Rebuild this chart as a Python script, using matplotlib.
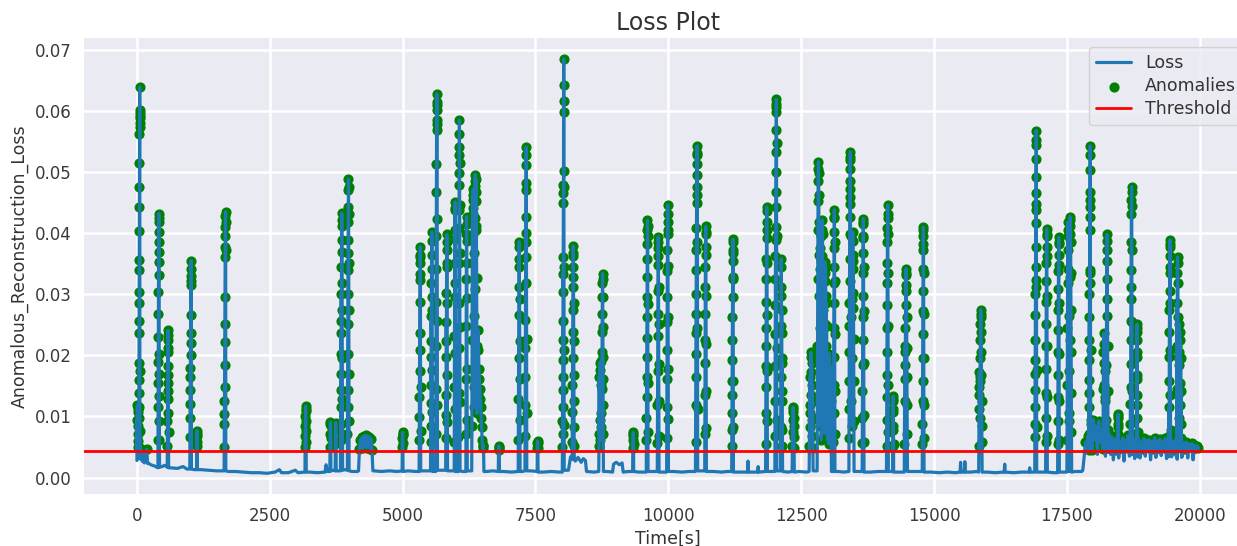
import numpy as np
import matplotlib.pyplot as plt

plt.style.use("seaborn-v0_8-darkgrid")
plt.rcParams["font.family"] = "DejaVu Sans"

threshold = 0.0044

# quiet stretches of the loss signal (time in s, loss)
base_t = [210, 260, 330, 470, 520, 640, 760, 870, 940, 1080, 1200, 1350, 1500, 1720,
          1850, 2000, 2150, 2300, 2450, 2600, 2680, 2720, 2850, 2980, 3030, 3250, 3400,
          3540, 3560, 3580, 3700, 3790, 3920, 4050, 4150, 4460, 4600, 4750, 4900, 5100,
          5250, 5420, 5590, 5720, 5900, 6130, 6260, 6580, 6700, 6900, 7050, 7250, 7420,
          7650, 7800, 7950, 8120, 8160, 8250, 8300, 8360, 8400, 8440, 8460, 8600, 8850,
          8950, 8970, 9020, 9080, 9130, 9150, 9250, 9450, 9700, 9900, 10100, 10250, 10400,
          10620, 10850, 11000, 11120, 11350, 11490, 11500, 11510, 11680, 11690, 11700,
          11950, 12250, 12450, 12600, 13200, 13300, 13560, 13800, 13950, 14350, 14600,
          14950, 15100, 15250, 15400, 15490, 15500, 15510, 15570, 15580, 15590, 15700,
          15800, 16000, 16150, 16320, 16330, 16340, 16500, 16650, 16790, 16800, 16810,
          17000, 17250, 17450, 17650, 17780]
base_loss = [0.0024, 0.0021, 0.0019, 0.0018, 0.0020, 0.0016, 0.0015, 0.0018, 0.0014,
             0.0013, 0.0013, 0.0012, 0.0011, 0.0010, 0.0010, 0.0009, 0.0008, 0.0008,
             0.0007, 0.0009, 0.0013, 0.0008, 0.0008, 0.0012, 0.0008, 0.0009, 0.0008,
             0.0009, 0.0021, 0.0010, 0.0012, 0.0011, 0.0013, 0.0010, 0.0010, 0.0011,
             0.0010, 0.0011, 0.0010, 0.0011, 0.0010, 0.0011, 0.0010, 0.0012, 0.0011,
             0.0010, 0.0011, 0.0010, 0.0011, 0.0010, 0.0009, 0.0010, 0.0011, 0.0009,
             0.0010, 0.0009, 0.0012, 0.0034, 0.0027, 0.0033, 0.0025, 0.0031, 0.0028,
             0.0010, 0.0009, 0.0010, 0.0009, 0.0022, 0.0025, 0.0021, 0.0024, 0.0009,
             0.0010, 0.0009, 0.0010, 0.0009, 0.0010, 0.0009, 0.0010, 0.0011, 0.0010,
             0.0009, 0.0010, 0.0009, 0.0009, 0.0027, 0.0009, 0.0009, 0.0018, 0.0009,
             0.0010, 0.0009, 0.0010, 0.0009, 0.0010, 0.0009, 0.0010, 0.0009, 0.0010,
             0.0009, 0.0010, 0.0009, 0.0008, 0.0009, 0.0008, 0.0009, 0.0025, 0.0009,
             0.0009, 0.0026, 0.0009, 0.0009, 0.0010, 0.0009, 0.0008, 0.0009, 0.0022,
             0.0009, 0.0008, 0.0009, 0.0009, 0.0016, 0.0009, 0.0009, 0.0008, 0.0009,
             0.0010, 0.0010]

# noisy tail after ~17800 s, one reading every 25 s
late_start = 17800
late_step = 25
late_loss = [0.0012, 0.0034, 0.0058, 0.0041, 0.0068,
             0.0052, 0.0088, 0.0045, 0.0095, 0.0062, 0.0084, 0.0038, 0.0092, 0.0058, 0.0079, 0.0046,
             0.0082, 0.0035, 0.0075, 0.0048, 0.0071,
             0.0038, 0.0066, 0.0029, 0.0062, 0.0045, 0.0068, 0.0032, 0.0058, 0.0041, 0.0065,
             0.0027, 0.0061, 0.0048, 0.0069, 0.0035, 0.0057, 0.0042, 0.0064, 0.0031, 0.0059,
             0.0044, 0.0063, 0.0032, 0.0058, 0.0047, 0.0064, 0.0035, 0.0061, 0.0042, 0.0062,
             0.0029, 0.0059, 0.0046, 0.0065, 0.0033, 0.0060, 0.0041, 0.0063, 0.0036, 0.0058,
             0.0048, 0.0064, 0.0031, 0.0061, 0.0043, 0.0062, 0.0034, 0.0059, 0.0045, 0.0063,
             0.0030, 0.0060, 0.0042, 0.0061, 0.0035, 0.0057, 0.0046, 0.0058, 0.0032, 0.0055,
             0.0044, 0.0056, 0.0029, 0.0053, 0.0041, 0.0052, 0.0048]

# bursts of high loss: first and last second, then the readings in between
burst_t0 = [0, 35, 65, 395, 570, 995, 1122, 1640, 3162, 3630, 3730, 3830, 3960, 4170,
            4990, 5310, 5525, 5622, 5810, 5970, 6048, 6190, 6300, 6350, 6410, 6800, 7175,
            7302, 7530, 8005, 8190, 8690, 8750, 9328, 9585, 9792, 9968, 10510, 10685,
            11192, 11830, 12005, 12112, 12330, 12650, 12800, 12845, 12885, 12930, 13020,
            13105, 13398, 13460, 13648, 14105, 14220, 14440, 14778, 15840, 16895, 17100,
            17326, 17500, 17545, 17912, 18180, 18240, 18452, 18690, 18808, 19420, 19560,
            19605]
burst_t1 = [30, 55, 200, 425, 596, 1025, 1138, 1672, 3186, 3650, 3750, 3870, 3992, 4440,
            5008, 5340, 5562, 5655, 5845, 5996, 6080, 6216, 6340, 6400, 6530, 6822, 7210,
            7336, 7548, 8040, 8230, 8740, 8778, 9348, 9618, 9825, 10002, 10552, 10716,
            11225, 11864, 12042, 12150, 12370, 12725, 12840, 12880, 12915, 12990, 13070,
            13135, 13432, 13495, 13682, 14140, 14240, 14500, 14812, 15905, 16932, 17132,
            17358, 17540, 17590, 17948, 18230, 18275, 18474, 18730, 18832, 19452, 19600,
            19660]
burst_loss = [
    [0.0028, 0.0095, 0.0042, 0.0118, 0.006, 0.0108, 0.0035, 0.0085, 0.005, 0.0112, 0.0072, 0.0031],
    [0.0098, 0.0115, 0.0138, 0.0159, 0.0187, 0.0236, 0.0257, 0.0285, 0.0304, 0.034, 0.0356, 0.0403,
     0.0443, 0.0475, 0.0515, 0.0562, 0.0574, 0.0588, 0.0601, 0.0596, 0.0639, 0.0592, 0.058, 0.0175, 0.0077],
    [0.0049, 0.0029, 0.0043, 0.0026, 0.0038, 0.0024, 0.0041, 0.0027, 0.0046, 0.0023],
    [0.0016, 0.0061, 0.0115, 0.0154, 0.0189, 0.023, 0.0268, 0.0304, 0.0331, 0.0369, 0.0402, 0.0419,
     0.0432, 0.0425, 0.0386, 0.0353, 0.0203, 0.017, 0.0134, 0.0093, 0.0061, 0.0017],
    [0.0017, 0.0052, 0.0092, 0.0128, 0.0155, 0.0182, 0.0205, 0.0225, 0.0241, 0.0233, 0.0212, 0.0168,
     0.0141, 0.0105, 0.0074, 0.0016],
    [0.0014, 0.0066, 0.0098, 0.0121, 0.0143, 0.0164, 0.018, 0.02, 0.022, 0.0236, 0.0266, 0.0315,
     0.033, 0.0355, 0.0342, 0.0322, 0.0014],
    [0.0013, 0.0052, 0.0068, 0.0077, 0.0071, 0.0058, 0.0013],
    [0.0011, 0.005, 0.0088, 0.0104, 0.0126, 0.0148, 0.0184, 0.0222, 0.0252, 0.0296, 0.0361, 0.0378,
     0.0395, 0.041, 0.0428, 0.0435, 0.0418, 0.0372, 0.0011],
    [0.0009, 0.005, 0.0068, 0.0085, 0.0101, 0.0112, 0.0117, 0.0109, 0.0093, 0.0076, 0.0058, 0.0009],
    [0.0010, 0.005, 0.0072, 0.0088, 0.0091, 0.0084, 0.0065, 0.0011],
    [0.0011, 0.0055, 0.0078, 0.009, 0.0082, 0.006, 0.0011],
    [0.0011, 0.0061, 0.0115, 0.0088, 0.017, 0.0143, 0.0236, 0.0203, 0.0301, 0.0257, 0.0345, 0.0389,
     0.0421, 0.0433, 0.0412, 0.037, 0.0318, 0.0275, 0.0195, 0.0128, 0.0072, 0.0012],
    [0.0012, 0.0072, 0.0115, 0.0143, 0.0203, 0.0252, 0.0301, 0.034, 0.0367, 0.0389, 0.0419, 0.0443,
     0.047, 0.0488, 0.0476, 0.0431, 0.0352, 0.0275, 0.017, 0.0093, 0.0011],
    [0.0011, 0.0046, 0.0062, 0.005, 0.0066, 0.0048, 0.0068, 0.0051, 0.0069, 0.0049, 0.0068, 0.0052,
     0.0066, 0.0047, 0.0063, 0.0045, 0.0011],
    [0.0011, 0.005, 0.0064, 0.0072, 0.0074, 0.0069, 0.0057, 0.0010],
    [0.0010, 0.0061, 0.0099, 0.0132, 0.0175, 0.0208, 0.0236, 0.0287, 0.0323, 0.0334, 0.0361, 0.0378,
     0.0365, 0.0352, 0.0148, 0.0077, 0.0011],
    [0.0011, 0.0058, 0.0122, 0.0085, 0.0198, 0.0152, 0.0265, 0.0224, 0.0318, 0.0296, 0.0365, 0.0402,
     0.0388, 0.0341, 0.0275, 0.0176, 0.0108, 0.0010],
    [0.0010, 0.0072, 0.0145, 0.0215, 0.0288, 0.0342, 0.0395, 0.0468, 0.0514, 0.0569, 0.0585, 0.0602,
     0.0615, 0.0628, 0.061, 0.0578, 0.0424, 0.0256, 0.0118, 0.0012],
    [0.0012, 0.0064, 0.0135, 0.0102, 0.0198, 0.0255, 0.0224, 0.0302, 0.0345, 0.0372, 0.0398, 0.0385,
     0.0352, 0.0286, 0.0168, 0.0091, 0.0011],
    [0.0011, 0.0059, 0.0148, 0.0232, 0.0295, 0.0352, 0.0405, 0.0442, 0.0451, 0.0438, 0.0391, 0.0318,
     0.0204, 0.0112, 0.0010],
    [0.0010, 0.0066, 0.0138, 0.0212, 0.0286, 0.0352, 0.0408, 0.0438, 0.0479, 0.0498, 0.0528, 0.0541,
     0.0585, 0.0562, 0.0515, 0.0446, 0.0368, 0.0246, 0.0124, 0.0011],
    [0.0010, 0.0071, 0.0162, 0.0248, 0.0325, 0.0398, 0.0427, 0.0415, 0.0388, 0.0352, 0.0294, 0.0178,
     0.0095, 0.0011],
    [0.0011, 0.0085, 0.0225, 0.0352, 0.0418, 0.0462, 0.0442, 0.0398, 0.0455, 0.0472, 0.0431, 0.0368,
     0.0264, 0.0148],
    [0.0115, 0.0308, 0.0425, 0.0478, 0.0496, 0.0485, 0.0452, 0.0406, 0.0467, 0.0488, 0.0412, 0.0326,
     0.0215, 0.0105],
    [0.0135, 0.0242, 0.0208, 0.0178, 0.0162, 0.0145, 0.0128, 0.0116, 0.0098, 0.0082, 0.0061, 0.0048,
     0.0054, 0.0051, 0.0010],
    [0.0010, 0.0046, 0.0052, 0.005, 0.0045, 0.0010],
    [0.0010, 0.0062, 0.0128, 0.0195, 0.0266, 0.0312, 0.0358, 0.0386, 0.0378, 0.0345, 0.0292, 0.0224,
     0.0162, 0.0094, 0.0010],
    [0.0011, 0.0068, 0.0118, 0.0165, 0.0212, 0.0258, 0.0318, 0.0361, 0.04, 0.0427, 0.047, 0.0511,
     0.0541, 0.0528, 0.0482, 0.0385, 0.0226, 0.0105, 0.0011],
    [0.0010, 0.0048, 0.0056, 0.006, 0.0057, 0.0049, 0.0009],
    [0.0009, 0.005, 0.0093, 0.0072, 0.0143, 0.0115, 0.0192, 0.0164, 0.0257, 0.0225, 0.0334, 0.0304,
     0.0361, 0.045, 0.0466, 0.0479, 0.0501, 0.0599, 0.0617, 0.0685, 0.0642, 0.0476, 0.0345, 0.0208,
     0.0086, 0.0012],
    [0.0030, 0.0058, 0.0108, 0.0152, 0.0196, 0.0238, 0.0275, 0.0312, 0.0345, 0.0368, 0.0379, 0.0362,
     0.0328, 0.0285, 0.0224, 0.0168, 0.0125, 0.0082, 0.0051, 0.0029],
    [0.0010, 0.0052, 0.0165, 0.0072, 0.0188, 0.0094, 0.0176, 0.0061, 0.0152, 0.0083, 0.0191, 0.0105],
    [0.0145, 0.0205, 0.0238, 0.0268, 0.0295, 0.0318, 0.0334, 0.0325, 0.0296, 0.0246, 0.0198, 0.0162,
     0.0118, 0.0072, 0.0010],
    [0.0010, 0.0048, 0.0062, 0.0071, 0.0074, 0.0068, 0.0055, 0.0010],
    [0.0009, 0.0062, 0.0098, 0.0132, 0.0165, 0.0198, 0.0228, 0.0262, 0.0295, 0.0328, 0.0358, 0.0382,
     0.0405, 0.0421, 0.0412, 0.0395, 0.0284, 0.0154, 0.0075, 0.0010],
    [0.0010, 0.0056, 0.0118, 0.0175, 0.0232, 0.0268, 0.0305, 0.0348, 0.0375, 0.0394, 0.0386, 0.0362,
     0.0312, 0.0252, 0.0186, 0.0125, 0.0068, 0.0009],
    [0.0009, 0.0064, 0.0115, 0.0162, 0.0208, 0.0255, 0.0296, 0.0338, 0.0372, 0.0398, 0.0418, 0.0446,
     0.0432, 0.0405, 0.0346, 0.0262, 0.0178, 0.0096, 0.0010],
    [0.0010, 0.0058, 0.0118, 0.0165, 0.0203, 0.0236, 0.0268, 0.0301, 0.034, 0.0372, 0.0408, 0.0449,
     0.0462, 0.0495, 0.0514, 0.0528, 0.0543, 0.0532, 0.0475, 0.0386, 0.0245, 0.0112, 0.0011],
    [0.0011, 0.0072, 0.0135, 0.0188, 0.0225, 0.0268, 0.0312, 0.0345, 0.0378, 0.0398, 0.0411, 0.0402,
     0.0365, 0.0298, 0.0218, 0.0142, 0.0081, 0.0010],
    [0.0010, 0.0051, 0.0078, 0.0105, 0.0135, 0.0158, 0.0192, 0.0225, 0.0262, 0.0295, 0.0328, 0.0355,
     0.0372, 0.039, 0.0385, 0.0368, 0.0325, 0.0158, 0.0082, 0.0009],
    [0.0010, 0.0055, 0.0105, 0.0148, 0.0182, 0.0215, 0.0245, 0.0288, 0.0325, 0.0358, 0.0392, 0.0418,
     0.0443, 0.0436, 0.0405, 0.0352, 0.0266, 0.0175, 0.0092, 0.0010],
    [0.0010, 0.0068, 0.0125, 0.0182, 0.0235, 0.0282, 0.0325, 0.0362, 0.0389, 0.041, 0.0443, 0.0468,
     0.05, 0.0533, 0.0569, 0.0599, 0.0607, 0.0619, 0.0612, 0.0548, 0.0395, 0.0212, 0.0095, 0.0011],
    [0.0011, 0.0082, 0.0165, 0.0248, 0.0312, 0.0358, 0.0345, 0.0298, 0.0236, 0.0275, 0.0195, 0.0142,
     0.0188, 0.0125, 0.0078, 0.0052, 0.0010],
    [0.0010, 0.0052, 0.0075, 0.0095, 0.0108, 0.0115, 0.0112, 0.0098, 0.0084, 0.0066, 0.0049, 0.0009],
    [0.0010, 0.0052, 0.0118, 0.0082, 0.0165, 0.0105, 0.0198, 0.0205, 0.0172, 0.0135, 0.0188, 0.0095,
     0.0152, 0.0068, 0.0125, 0.0048, 0.0011],
    [0.0011, 0.0098, 0.0215, 0.0325, 0.0405, 0.0452, 0.0485, 0.0505, 0.0517, 0.0498, 0.0462, 0.0418,
     0.0365, 0.0298],
    [0.0245, 0.0402, 0.0152, 0.0375, 0.0085, 0.0342, 0.0118, 0.0395, 0.0205, 0.0355, 0.0062],
    [0.0145, 0.0285, 0.0362, 0.0405, 0.0421, 0.0398, 0.0352, 0.0275, 0.0186, 0.0102],
    [0.0072, 0.0185, 0.0286, 0.0335, 0.0353, 0.0322, 0.0252, 0.0345, 0.0298, 0.0215, 0.0285, 0.0162,
     0.0248, 0.0108, 0.0195, 0.0065],
    [0.0055, 0.0142, 0.0203, 0.0168, 0.0095, 0.0182, 0.0125, 0.0062, 0.0010],
    [0.0010, 0.0058, 0.0105, 0.0152, 0.0198, 0.0245, 0.0285, 0.0318, 0.0345, 0.0375, 0.0402, 0.0425,
     0.0438, 0.0426, 0.0385, 0.0322, 0.0235, 0.0142, 0.0072, 0.0010],
    [0.0010, 0.0065, 0.0112, 0.0158, 0.0205, 0.0248, 0.0285, 0.0322, 0.0358, 0.0398, 0.0427, 0.0447,
     0.046, 0.0472, 0.0505, 0.052, 0.0533, 0.0525, 0.0486, 0.0395, 0.0262, 0.0125],
    [0.0085, 0.0195, 0.0292, 0.0365, 0.0402, 0.0388, 0.0342, 0.0278, 0.0355, 0.0302, 0.0226, 0.0158,
     0.0092, 0.0010],
    [0.0010, 0.0056, 0.0098, 0.0142, 0.0185, 0.0225, 0.0262, 0.0298, 0.0335, 0.0368, 0.0395, 0.0415,
     0.0424, 0.0418, 0.0392, 0.0345, 0.0272, 0.0188, 0.0102, 0.0058, 0.0009],
    [0.0010, 0.0052, 0.0095, 0.0132, 0.0168, 0.0205, 0.0245, 0.0282, 0.0318, 0.0352, 0.0385, 0.0408,
     0.0425, 0.0446, 0.0432, 0.0398, 0.0335, 0.0248, 0.0152, 0.0075, 0.0010],
    [0.0010, 0.0052, 0.0085, 0.0112, 0.0128, 0.0133, 0.0126, 0.0108, 0.0078, 0.0055, 0.0009],
    [0.0009, 0.0055, 0.0125, 0.0185, 0.0215, 0.0162, 0.0205, 0.0245, 0.0282, 0.0315, 0.0335, 0.0342,
     0.0332, 0.0305, 0.0262, 0.0212, 0.0165, 0.0118, 0.0072, 0.0010],
    [0.0010, 0.0055, 0.0088, 0.0125, 0.0158, 0.0195, 0.0235, 0.0272, 0.0305, 0.0342, 0.0372, 0.0395,
     0.041, 0.0405, 0.0382, 0.0335, 0.0268, 0.0195, 0.0118, 0.0065, 0.0009],
    [0.0009, 0.0052, 0.0112, 0.0148, 0.0172, 0.0135, 0.0158, 0.0098, 0.0165, 0.0195, 0.0225, 0.0252,
     0.0268, 0.0275, 0.0262, 0.0238, 0.0205, 0.0168, 0.0125, 0.0085, 0.0058, 0.0009],
    [0.0009, 0.0066, 0.0088, 0.0115, 0.0143, 0.017, 0.0192, 0.0225, 0.0266, 0.0301, 0.0323, 0.0345,
     0.0378, 0.0416, 0.0438, 0.0465, 0.0492, 0.0522, 0.0552, 0.0568, 0.0545, 0.0448, 0.0312, 0.0176,
     0.0082, 0.0009],
    [0.0009, 0.0058, 0.0098, 0.0138, 0.0178, 0.0215, 0.0252, 0.0288, 0.0322, 0.0352, 0.0378, 0.0398,
     0.0407, 0.0396, 0.0362, 0.0298, 0.0215, 0.0132, 0.0068, 0.0009],
    [0.0008, 0.0055, 0.0092, 0.0132, 0.0168, 0.0205, 0.0242, 0.0275, 0.0308, 0.0338, 0.0365, 0.0385,
     0.0393, 0.0382, 0.0348, 0.0285, 0.0202, 0.0125, 0.0062, 0.0009],
    [0.0009, 0.0062, 0.0152, 0.0245, 0.0318, 0.0372, 0.0405, 0.0418, 0.0395, 0.0342, 0.0265, 0.0175,
     0.0092, 0.0010],
    [0.0010, 0.0105, 0.0225, 0.0328, 0.0398, 0.0427, 0.0422, 0.0412, 0.0385, 0.0335, 0.0275, 0.0205,
     0.0138, 0.0075, 0.0009],
    [0.0045, 0.0072, 0.0115, 0.0138, 0.0159, 0.0192, 0.0225, 0.0263, 0.0301, 0.0318, 0.034, 0.0405,
     0.0427, 0.0443, 0.0468, 0.0503, 0.0543, 0.0528, 0.0455, 0.0335, 0.0208, 0.0095, 0.0048],
    [0.0062, 0.0145, 0.0205, 0.0236, 0.0188, 0.0152, 0.0218, 0.0125, 0.0175, 0.0085, 0.0132, 0.0068],
    [0.0095, 0.0185, 0.0265, 0.0325, 0.0372, 0.0398, 0.0388, 0.0355, 0.0292, 0.0215, 0.0142, 0.0078,
     0.0041],
    [0.0039, 0.0058, 0.0082, 0.0098, 0.0104, 0.0101, 0.0088, 0.0072, 0.0061, 0.0037],
    [0.0036, 0.0065, 0.0088, 0.0121, 0.0148, 0.0186, 0.0225, 0.0257, 0.0293, 0.0312, 0.034, 0.0386,
     0.0432, 0.0454, 0.0476, 0.0468, 0.0445, 0.0372, 0.0255, 0.0142, 0.0072, 0.0038],
    [0.0037, 0.0062, 0.0098, 0.0135, 0.0168, 0.0198, 0.0225, 0.0245, 0.0251, 0.0238, 0.0205, 0.0162,
     0.0118, 0.0075, 0.0034],
    [0.0034, 0.0068, 0.0115, 0.0158, 0.0198, 0.0238, 0.0275, 0.0305, 0.0335, 0.0362, 0.0382, 0.0389,
     0.0378, 0.0345, 0.0285, 0.0208, 0.0135, 0.0078, 0.0036],
    [0.0035, 0.0072, 0.0145, 0.0215, 0.0285, 0.0335, 0.0361, 0.0352, 0.0318, 0.0262, 0.0198, 0.0135],
    [0.0098, 0.0205, 0.0252, 0.0185, 0.0238, 0.0155, 0.0225, 0.0118, 0.0195, 0.0088, 0.0142, 0.0065,
     0.0033],
]

# put every reading on one time axis
t_parts = [np.array(base_t, dtype=float),
           late_start + late_step * np.arange(len(late_loss))]
v_parts = [np.array(base_loss), np.array(late_loss)]
for t0, t1, vals in zip(burst_t0, burst_t1, burst_loss):
    t_parts.append(np.linspace(t0, t1, len(vals)))
    v_parts.append(np.array(vals))
t = np.concatenate(t_parts)
loss = np.concatenate(v_parts)
order = np.argsort(t, kind="stable")
t, loss = t[order], loss[order]
anomaly = loss > threshold

fig = plt.figure(figsize=(12.37, 5.46), dpi=100)
ax = fig.add_axes([0.0678, 0.0952, 0.9439, 0.8346])

ax.plot(t, loss, color="#1f77b4", linewidth=2.3, label="Loss")
ax.scatter(t[anomaly], loss[anomaly], color="green", s=40, label="Anomalies")
ax.axhline(threshold, color="red", linewidth=2.0, label="Threshold")

ax.set_title("Loss Plot", fontsize=17, color="#333333")
ax.set_xlabel("Time[s]", fontsize=12.5, color="#333333")
ax.set_ylabel("Anomalous_Reconstruction_Loss", fontsize=12.5, color="#333333")
ax.tick_params(labelsize=12, pad=9, labelcolor="#3a3a3a")
ax.grid(True, color="white", linewidth=1.8)
leg = ax.legend(loc="upper right", fontsize=12.5, frameon=True, labelspacing=0.3)
for txt in leg.get_texts():
    txt.set_color("#333333")

fig.savefig("out.png", dpi=100)
